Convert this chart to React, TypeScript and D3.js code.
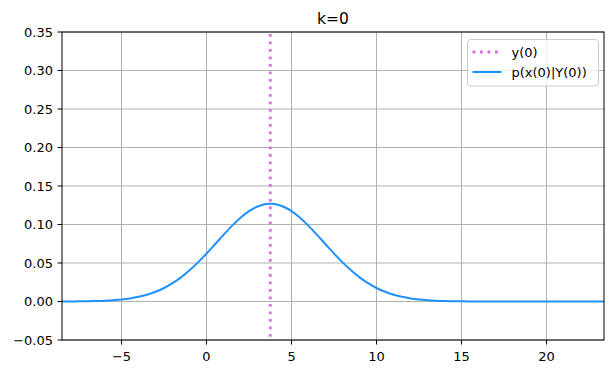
import React from "react";
import * as d3 from "d3";

// values
const xs = [
  -8.5, -8, -7.5, -7, -6.5, -6, -5.5, -5, -4.5, -4, -3.5, -3, -2.5, -2, -1.5, -1, -0.5,
  0, 0.5, 1, 1.5, 2, 2.5, 3, 3.5, 3.75, 4, 4.5, 5, 5.5, 6, 6.5, 7, 7.5, 8, 8.5, 9, 9.5,
  10, 10.5, 11, 11.5, 12, 12.5, 13, 13.5, 14, 14.5, 15, 15.5, 16, 17, 18, 19, 20, 21, 22, 23, 23.4,
];
const density = [
  0.00006, 0.00012, 0.00021, 0.00036, 0.00062, 0.00102, 0.00166, 0.00262, 0.00403, 0.00604,
  0.00884, 0.01261, 0.01752, 0.02375, 0.03138, 0.04045, 0.05083, 0.06224, 0.07433, 0.08655,
  0.09825, 0.10874, 0.11732, 0.12343, 0.1266, 0.127, 0.1266, 0.12343, 0.11732, 0.10874,
  0.09825, 0.08655, 0.07433, 0.06224, 0.05083, 0.04045, 0.03138, 0.02375, 0.01752, 0.01261,
  0.00884, 0.00604, 0.00403, 0.00262, 0.00166, 0.00102, 0.00062, 0.00036, 0.00021, 0.00012,
  0.00006, 0.00002, 0, 0, 0, 0, 0, 0, 0,
];
const observation = 3.75;
const xTicks = [-5, 0, 5, 10, 15, 20];
const yTicks = [-0.05, 0, 0.05, 0.1, 0.15, 0.2, 0.25, 0.3, 0.35];
const legendLabels = ["y(0)", "p(x(0)|Y(0))"];
const title = "k=0";

const W = 614;
const H = 374;
const margin = { top: 32, right: 10, bottom: 34, left: 62 };
const font = "DejaVu Sans, sans-serif";

export default function App() {
  const x = d3.scaleLinear().domain([-8.5, 23.38]).range([margin.left, W - margin.right]);
  const y = d3.scaleLinear().domain([-0.05, 0.35]).range([H - margin.bottom, margin.top]);

  const line = d3
    .line<number>()
    .x((_, i) => x(xs[i]))
    .y((d) => y(d))
    .curve(d3.curveMonotoneX);

  const fmtY = (v: number) => d3.format(".2f")(v).replace("-", "\u2212");
  const fmtX = (v: number) => String(v).replace("-", "\u2212");

  const x0 = x.range()[0];
  const x1 = x.range()[1];
  const y0 = y.range()[0];
  const y1 = y.range()[1];

  return (
    <svg
      width={W}
      height={H}
      style={{ position: "absolute", left: 0, top: 0, background: "white" }}
      fontFamily={font}
    >
      <defs>
        <clipPath id="plot">
          <rect x={x0} y={y1} width={x1 - x0} height={y0 - y1} />
        </clipPath>
      </defs>

      {/* grid */}
      <g stroke="#b0b0b0" strokeWidth={1}>
        {xTicks.map((t) => (
          <line key={"gx" + t} x1={x(t)} x2={x(t)} y1={y1} y2={y0} />
        ))}
        {yTicks.map((t) => (
          <line key={"gy" + t} x1={x0} x2={x1} y1={y(t)} y2={y(t)} />
        ))}
      </g>

      <g clipPath="url(#plot)">
        <line
          x1={x(observation)}
          x2={x(observation)}
          y1={y1}
          y2={y0}
          stroke="#da70d6"
          strokeWidth={2.8}
          strokeDasharray="2.8 4.7"
          strokeDashoffset={-2}
        />
        <path d={line(density) ?? ""} fill="none" stroke="#1e90ff" strokeWidth={2} />
      </g>

      {/* frame */}
      <rect x={x0} y={y1} width={x1 - x0} height={y0 - y1} fill="none" stroke="black" strokeWidth={1} />

      {/* axes */}
      <g fontSize={13} fill="black">
        {xTicks.map((t) => (
          <g key={"tx" + t}>
            <line x1={x(t)} x2={x(t)} y1={y0} y2={y0 + 4.5} stroke="black" />
            <text x={x(t)} y={y0 + 21} textAnchor="middle">
              {fmtX(t)}
            </text>
          </g>
        ))}
        {yTicks.map((t) => (
          <g key={"ty" + t}>
            <line x1={x0 - 4.5} x2={x0} y1={y(t)} y2={y(t)} stroke="black" />
            <text x={x0 - 9} y={y(t)} dy="0.35em" textAnchor="end">
              {fmtY(t)}
            </text>
          </g>
        ))}
      </g>

      <text x={(x0 + x1) / 2} y={24} textAnchor="middle" fontSize={15.5}>
        {title}
      </text>

      {/* legend */}
      <g>
        <rect
          x={467.5}
          y={39.5}
          width={131}
          height={46.5}
          rx={3}
          fill="white"
          fillOpacity={0.8}
          stroke="#cccccc"
        />
        <line x1={472.5} x2={501.5} y1={52} y2={52} stroke="#da70d6" strokeWidth={2.8} strokeDasharray="2.8 4.7" />
        <line x1={472.5} x2={501.5} y1={72} y2={72} stroke="#1e90ff" strokeWidth={2} />
        {legendLabels.map((l, i) => (
          <text key={l} x={511.5} y={52 + i * 20} dy="0.35em" fontSize={13}>
            {l}
          </text>
        ))}
      </g>
    </svg>
  );
}
